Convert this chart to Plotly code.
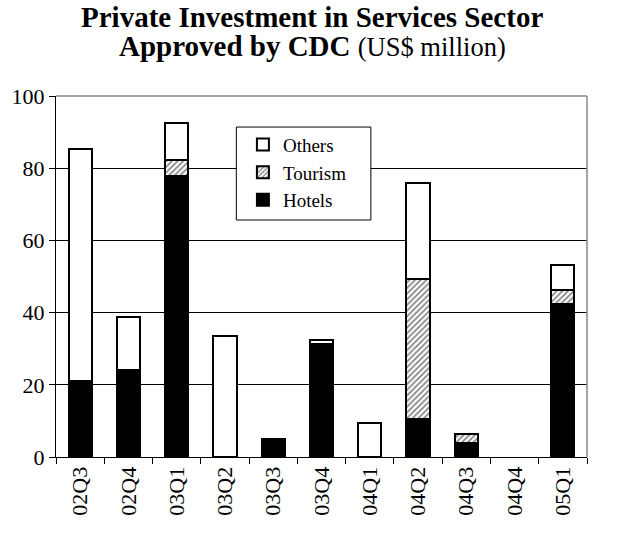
import plotly.graph_objects as go

categories = ["02Q3", "02Q4", "03Q1", "03Q2", "03Q3", "03Q4", "04Q1", "04Q2", "04Q3", "04Q4", "05Q1"]
hotels = [21.1, 24.2, 77.9, None, 5.0, 31.3, None, 10.6, 4.0, None, 42.4]
tourism = [None, None, 4.4, None, None, None, None, 38.7, 2.3, None, 3.9]
others = [64.1, 14.6, 10.1, 33.6, None, 1.2, 9.5, 26.5, None, None, 7.0]
title_line1 = "Private Investment in Services Sector"
title_line2 = "Approved by CDC"
title_unit = "(US$ million)"

FONT = "Liberation Serif, Times New Roman, serif"

fig = go.Figure()
fig.add_trace(go.Bar(x=categories, y=hotels, name="Hotels",
                     marker=dict(color="black", line=dict(color="black", width=2))))
fig.add_trace(go.Bar(x=categories, y=tourism, name="Tourism",
                     marker=dict(color="white", line=dict(color="black", width=2),
                                 pattern=dict(shape="/", fgcolor="black", bgcolor="white",
                                              size=4, solidity=0.4))))
fig.add_trace(go.Bar(x=categories, y=others, name="Others",
                     marker=dict(color="white", line=dict(color="black", width=2))))

fig.update_layout(
    barmode="stack",
    bargap=0.52,
    width=620, height=541,
    margin=dict(l=54, r=33, t=96, b=84),
    paper_bgcolor="white", plot_bgcolor="white",
    font=dict(family=FONT, size=22, color="black"),
    showlegend=True,
    legend=dict(x=0.352, y=0.918, xanchor="left", yanchor="top",
                traceorder="reversed", bgcolor="rgba(0,0,0,0)",
                borderwidth=0,
                font=dict(family=FONT, size=19, color="black"),
                itemwidth=30, tracegroupgap=0),
    xaxis=dict(showline=True, linecolor="black", linewidth=1,
               ticks="outside", tickson="boundaries", ticklen=6, tickcolor="black",
               tickangle=-90, showgrid=False,
               tickfont=dict(family=FONT, size=22)),
    yaxis=dict(range=[0, 100], dtick=20, showline=True, linecolor="black", linewidth=1,
               ticks="outside", ticklen=6, tickcolor="black",
               showgrid=True, gridcolor="black", gridwidth=1,
               zeroline=False,
               tickfont=dict(family=FONT, size=22)),
)
fig.add_annotation(text="<b>" + title_line1 + "</b>", xref="paper", yref="paper",
                   x=0.483, y=1.2188, xanchor="center", yanchor="middle", showarrow=False,
                   font=dict(family=FONT, size=29, color="black"))
fig.add_annotation(text="<b>" + title_line2 + "</b> <span style='font-size:26.5px'>" + title_unit + "</span>",
                   xref="paper", yref="paper",
                   x=0.483, y=1.1385, xanchor="center", yanchor="middle", showarrow=False,
                   font=dict(family=FONT, size=29, color="black"))
fig.add_shape(type="line", xref="x domain", yref="y domain", x0=0, x1=1, y0=1, y1=1,
              line=dict(color="#888888", width=1.5))
fig.add_shape(type="line", xref="x domain", yref="y domain", x0=1, x1=1, y0=0, y1=1,
              line=dict(color="#888888", width=1.5))
# legend frame
fig.add_shape(type="rect", xref="x domain", yref="y domain",
              x0=0.3396, x1=0.593, y0=0.6565, y1=0.914, layer="above",
              fillcolor="white", line=dict(color="black", width=1))

fig.write_html("out.html", config={"displayModeBar": False},
               post_script="document.body.style.margin='0';")
